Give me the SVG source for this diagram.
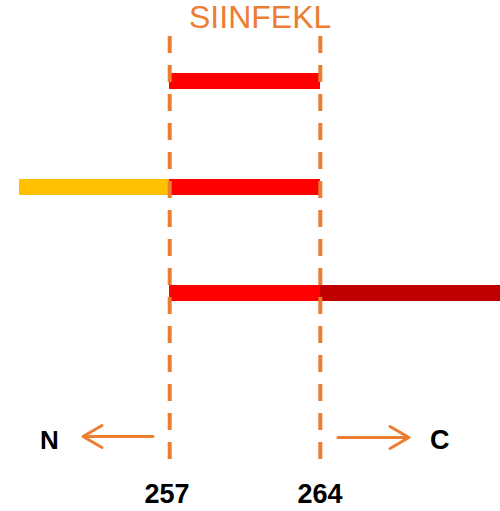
<svg xmlns="http://www.w3.org/2000/svg" width="500" height="511" viewBox="0 0 500 511">
<style>
.guide{stroke:#ED7D31;stroke-width:4;stroke-dasharray:17 12;fill:none}
.arr{stroke:#ED7D31;stroke-width:3;fill:none;stroke-linecap:round;stroke-linejoin:round}
.lbl{font-family:"Liberation Sans",Arial,sans-serif;font-weight:bold;fill:#000}
</style>
<rect width="500" height="511" fill="#fff"/>
<text x="189" y="28" font-family="Liberation Sans,Arial,sans-serif" font-size="32" fill="#ED7D31">SIINFEKL</text>
<g id="bar1"><rect x="169" y="73" width="151" height="16" fill="#FF0000"/></g>
<g id="bar2"><rect x="19" y="179" width="150" height="16" fill="#FFC000"/><rect x="169" y="179" width="151" height="16" fill="#FF0000"/></g>
<g id="bar3"><rect x="169" y="285" width="151" height="16" fill="#FF0000"/><rect x="320" y="285" width="180" height="16" fill="#C00000"/></g>
<g id="connectors">
<line class="guide" x1="169.7" y1="36" x2="169.7" y2="459"/>
<line class="guide" x1="320.3" y1="36" x2="320.3" y2="459"/>
<path class="arr" d="M153 436.5H83M102 425.5L83 436.5L102 447.5"/>
<path class="arr" d="M338 437.5H409M390 426.5L409 437.5L390 448.5"/>
</g>
<g id="N"><text class="lbl" x="40" y="449" font-size="26">N</text></g>
<g id="C"><text class="lbl" x="430" y="449" font-size="27">C</text></g>
<g id="p257"><text class="lbl" x="167" y="503" font-size="27" text-anchor="middle">257</text></g>
<g id="p264"><text class="lbl" x="320" y="503" font-size="27" text-anchor="middle">264</text></g>
</svg>
